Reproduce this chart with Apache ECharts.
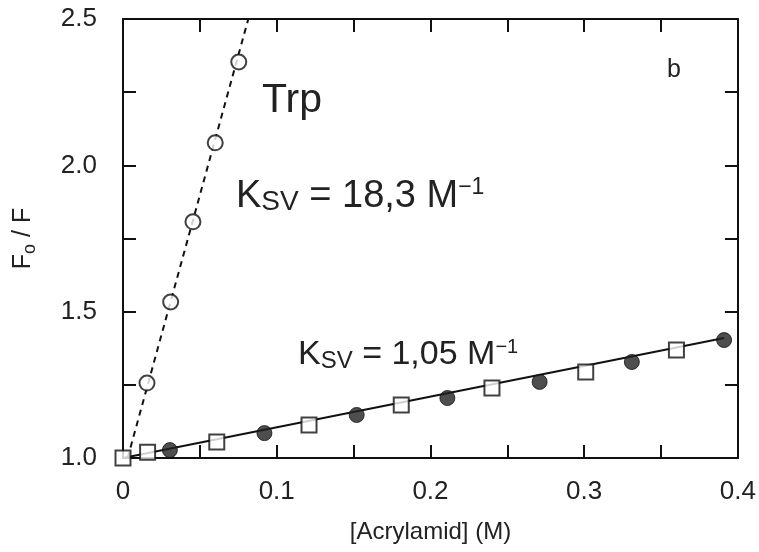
<!DOCTYPE html>
<html>
<head>
<meta charset="utf-8">
<script src="https://cdn.jsdelivr.net/npm/echarts@6/dist/echarts.min.js"></script>
<style>html,body{margin:0;padding:0;background:#fff}#c{width:759px;height:552px}</style>
</head>
<body>
<div id="c"></div>
<script>
// Trp: open circles (dotted fit)
const trpX = [0, 0.0156, 0.031, 0.0455, 0.060, 0.0753];
const trpY = [1.0, 1.256, 1.533, 1.807, 2.077, 2.353];
const trpFitX = [0.003, 0.0815];
const trpFitY = [1.0, 2.5];
// open squares
const sqX = [0, 0.016, 0.061, 0.121, 0.181, 0.240, 0.301, 0.360];
const sqY = [1.0, 1.02, 1.055, 1.113, 1.181, 1.239, 1.294, 1.369];
// filled circles
const fcX = [0.0305, 0.092, 0.152, 0.211, 0.271, 0.331, 0.391];
const fcY = [1.027, 1.085, 1.147, 1.205, 1.26, 1.328, 1.403];
// solid fit line
const fitX = [0, 0.391];
const fitY = [1.0, 1.41];
// tick labels
const xTickLabels = ['0', '0.1', '0.2', '0.3', '0.4'];
const yTickLabels = ['1.0', '1.5', '2.0', '2.5'];

const pairs = (xs, ys) => xs.map((x, i) => [x, ys[i]]);
const FONT = '"Liberation Sans", Arial, sans-serif';
const axisCommon = {
  axisLine: { show: true, onZero: false, lineStyle: { color: '#111', width: 2 } },
  axisTick: { show: true, inside: true, length: 13, lineStyle: { color: '#111', width: 2 } },
  splitLine: { show: false }
};
const chart = echarts.init(document.getElementById('c'));
chart.setOption({
  backgroundColor: '#fff',
  animation: false,
  grid: { left: 123, right: 19, top: 19, bottom: 94, containLabel: false },
  xAxis: [
    Object.assign({
      type: 'value', min: 0, max: 0.4, interval: 0.05, position: 'bottom',
      name: '[Acrylamid] (M)', nameLocation: 'middle', nameGap: 62,
      nameTextStyle: { fontFamily: FONT, fontSize: 24, color: '#222' },
      axisLabel: {
        margin: 21, fontFamily: FONT, fontSize: 26, color: '#222',
        formatter: v => { const r = Math.round(v * 100); return r % 10 === 0 ? xTickLabels[r / 10] : ''; }
      }
    }, axisCommon),
    Object.assign({
      type: 'value', min: 0, max: 0.4, interval: 0.05, position: 'top',
      axisLabel: { show: false }
    }, axisCommon)
  ],
  yAxis: [
    Object.assign({
      type: 'value', min: 1.0, max: 2.5, interval: 0.25, position: 'left',
      name: 'F{sub|o} / F', nameLocation: 'middle', nameGap: 84, nameRotate: 90,
      nameTextStyle: { fontFamily: FONT, fontSize: 25, color: '#222',
        rich: { sub: { fontFamily: FONT, fontSize: 18, color: '#222', padding: [14, 0, 0, 0] } } },
      axisLabel: {
        margin: 26, fontFamily: FONT, fontSize: 26, color: '#222',
        formatter: v => { const r = Math.round(v * 100); return r % 50 === 0 ? yTickLabels[(r - 100) / 50] : ''; }
      }
    }, axisCommon),
    Object.assign({
      type: 'value', min: 1.0, max: 2.5, interval: 0.25, position: 'right',
      axisLabel: { show: false }
    }, axisCommon)
  ],
  series: [
    { type: 'line', data: pairs(trpFitX, trpFitY), symbol: 'none', silent: true,
      lineStyle: { color: '#111', width: 2, type: [6, 5] }, z: 2 },
    { type: 'line', data: pairs(fitX, fitY), symbol: 'none', silent: true,
      lineStyle: { color: '#111', width: 2 }, z: 2 },
    { type: 'scatter', data: pairs(trpX.slice(1), trpY.slice(1)), symbol: 'circle', symbolSize: 15,
      itemStyle: { color: '#fff', borderColor: '#111', borderWidth: 2 }, z: 3 },
    { type: 'scatter', data: pairs(sqX, sqY), symbol: 'rect', symbolSize: 15,
      itemStyle: { color: '#fff', borderColor: '#111', borderWidth: 2 }, z: 4 },
    { type: 'scatter', data: pairs(fcX, fcY), symbol: 'circle', symbolSize: 15,
      itemStyle: { color: '#222', borderColor: '#111', borderWidth: 1 }, z: 4 }
  ],
  graphic: [
    { type: 'text', left: 262, top: 80, style: { text: 'Trp', fontFamily: FONT, fontSize: 41, fill: '#222' } },
    { type: 'text', left: 236, top: 176, style: {
      text: '{k|K}{s|SV}{k| = 18,3 M}{p|−1}',
      rich: {
        k: { fontFamily: FONT, fontSize: 38, fill: '#222' },
        s: { fontFamily: FONT, fontSize: 28, fill: '#222', padding: [12, 0, 0, 0] },
        p: { fontFamily: FONT, fontSize: 23, fill: '#222', padding: [0, 0, 18, 0] }
      } } },
    { type: 'text', left: 298, top: 337, style: {
      text: '{k|K}{s|SV}{k| = 1,05 M}{p|−1}',
      rich: {
        k: { fontFamily: FONT, fontSize: 34, fill: '#222' },
        s: { fontFamily: FONT, fontSize: 24, fill: '#222', padding: [12, 0, 0, 0] },
        p: { fontFamily: FONT, fontSize: 20, fill: '#222', padding: [0, 0, 16, 0] }
      } } },
    { type: 'text', left: 667, top: 58, style: { text: 'b', fontFamily: FONT, fontSize: 25, fill: '#222' } }
  ]
});
</script>
</body>
</html>
